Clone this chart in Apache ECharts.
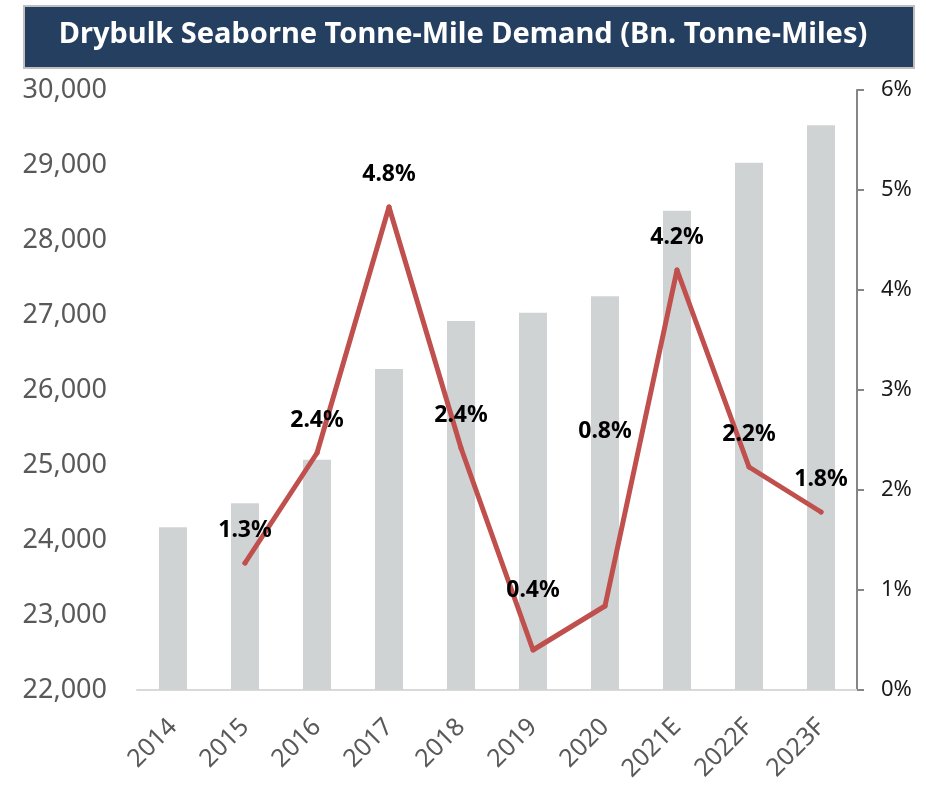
<!DOCTYPE html>
<html>
<head>
<meta charset="utf-8">
<title>Drybulk Seaborne Tonne-Mile Demand</title>
<script src="https://cdn.jsdelivr.net/npm/echarts@6/dist/echarts.min.js"></script>
<style>
    html, body { margin: 0; padding: 0; background: #fff; }
    #chart_show { width: 926px; height: 796px; }
</style>
</head>
<body>
<div id="chart_show"></div>
<script>
// 数据
var years = ['2014', '2015', '2016', '2017', '2018', '2019', '2020', '2021E', '2022F', '2023F'];
var demand = [24170, 24490, 25070, 26280, 26920, 27030, 27250, 28390, 29030, 29530]; // Bn. tonne-miles
var growth = [null, 1.27, 2.37, 4.83, 2.42, 0.40, 0.84, 4.20, 2.23, 1.78]; // %

// 初始化echarts实例
var myChart = echarts.init(document.getElementById('chart_show'));

// 个别标签往上挪
var lift = { 5: 46, 6: 161 };
var lineData = [];
for (var i = 0; i < growth.length; i++) {
    var item = { value: growth[i] };
    if (lift[i]) {
        item.label = { distance: lift[i] };
    }
    lineData.push(item);
}

var option = {
    animation: false,
    graphic: [{
        type: 'rect',
        left: 23,
        top: 5,
        shape: { width: 890, height: 62 },
        style: { fill: '#243f60', stroke: '#bfbfbf', lineWidth: 2 },
        z: 0
    }],
    title: {
        text: 'Drybulk Seaborne Tonne-Mile Demand (Bn. Tonne-Miles)',
        left: 'center',
        top: 15,
        textStyle: {
            color: '#fff',
            fontFamily: 'Noto Sans',
            fontWeight: 'bold',
            fontSize: 29
        },
        z: 10
    },
    grid: {
        left: 137,
        right: 69,
        top: 90,
        bottom: 106
    },
    xAxis: {
        type: 'category',
        data: years,
        axisLine: { lineStyle: { color: '#d9d9d9', width: 2 } },
        axisTick: { show: false },
        axisLabel: {
            rotate: 45,
            margin: 33,
            color: '#595959',
            fontFamily: 'Noto Sans',
            fontSize: 25
        }
    },
    yAxis: [{
        type: 'value',
        min: 22000,
        max: 30000,
        interval: 1000,
        splitLine: { show: false },
        axisLine: { show: false },
        axisTick: { show: false },
        axisLabel: {
            margin: 30,
            color: '#595959',
            fontFamily: 'Noto Sans',
            fontSize: 27,
            formatter: function (v) {
                return v.toLocaleString('en-US');
            }
        }
    }, {
        type: 'value',
        min: 0,
        max: 6,
        interval: 1,
        splitLine: { show: false },
        axisLine: { show: true, lineStyle: { color: '#868686', width: 2 } },
        axisTick: { show: true, length: 7, lineStyle: { color: '#868686', width: 2 } },
        axisLabel: {
            margin: 24,
            color: '#1a1a1a',
            fontFamily: 'Noto Sans',
            fontSize: 22,
            formatter: '{value}%'
        }
    }],
    series: [{
        name: 'Demand',
        type: 'bar',
        data: demand,
        barWidth: 28,
        itemStyle: { color: '#d0d3d4' }
    }, {
        name: 'Growth',
        type: 'line',
        yAxisIndex: 1,
        data: lineData,
        symbol: 'circle',
        symbolSize: 5,
        itemStyle: { color: '#c0504d' },
        lineStyle: { color: '#c0504d', width: 5, cap: 'round', join: 'round' },
        label: {
            show: true,
            position: 'top',
            distance: 19,
            color: '#000',
            fontFamily: 'Noto Sans',
            fontWeight: 'bold',
            fontSize: 23,
            formatter: function (p) {
                if (p.value == null) return '';
                return Number(p.value).toFixed(1) + '%';
            }
        },
        z: 5
    }]
};
// 显示图表
myChart.setOption(option);
</script>
</body>
</html>
